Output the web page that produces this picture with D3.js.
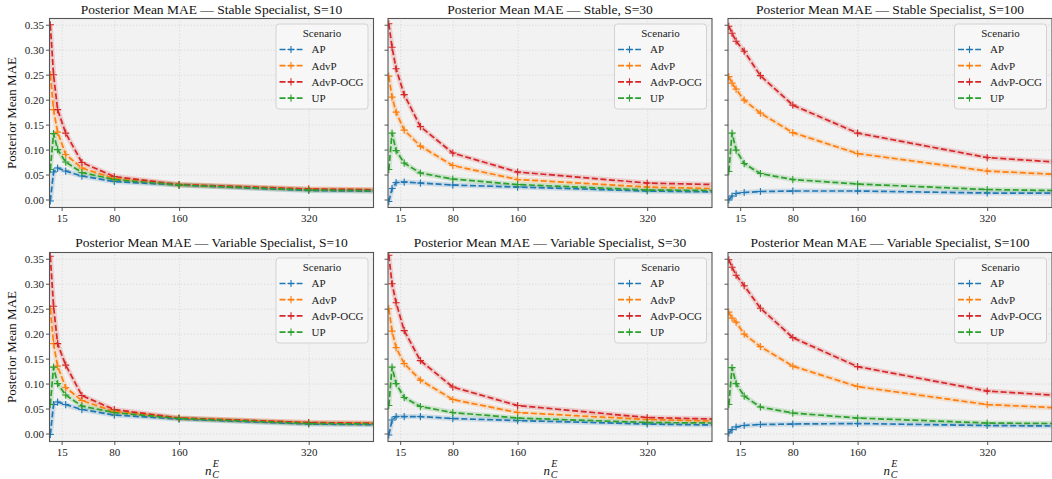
<!DOCTYPE html>
<html>
<head>
<meta charset="utf-8">
<script src="https://cdn.jsdelivr.net/npm/d3@7"></script>
<style>
  body { margin: 0; background: #fff; }
  svg { display: block; font-family: "Liberation Serif", "DejaVu Serif", serif; }
  .grid line { stroke: #d4d4d4; stroke-width: 0.8; stroke-dasharray: 1.2,2; }
  .grid path { display: none; }
  .ax path { display: none; }
  .ax line { stroke: #555; stroke-width: 1; }
  .ax text { fill: #222; font-size: 11px; font-family: "Liberation Serif", "DejaVu Serif", serif; }
</style>
</head>
<body>
<svg id="chart" width="1052" height="479"></svg>
<script>
// x values (n_C^E) for every series
var xValues = [1, 5, 10, 20, 40, 80, 160, 320, 640];
var scenarios = ["AP", "AdvP", "AdvP-OCG", "UP"];
var colors = ["#1f77b4", "#ff7f0e", "#d62728", "#2ca02c"];
var xTicks = [15, 80, 160, 320];
var yTicks = [0, 0.05, 0.10, 0.15, 0.20, 0.25, 0.30, 0.35];

var titles = [
  "Posterior Mean MAE \u2014 Stable Specialist, S=10",
  "Posterior Mean MAE \u2014 Stable, S=30",
  "Posterior Mean MAE \u2014 Stable Specialist, S=100",
  "Posterior Mean MAE \u2014 Variable Specialist, S=10",
  "Posterior Mean MAE \u2014 Variable Specialist, S=30",
  "Posterior Mean MAE \u2014 Variable Specialist, S=100"
];

// Stable Specialist, S=10
var stable10AP   = [-0.003, 0.055, 0.063, 0.057, 0.047, 0.036, 0.029, 0.018, 0.013];
var stable10AdvP = [0.250, 0.180, 0.135, 0.090, 0.063, 0.042, 0.030, 0.021, 0.016];
var stable10OCG  = [0.350, 0.250, 0.180, 0.133, 0.074, 0.046, 0.030, 0.021, 0.015];
var stable10UP   = [0.060, 0.132, 0.100, 0.075, 0.054, 0.040, 0.029, 0.019, 0.014];
// Stable, S=30
var stable30AP   = [-0.004, 0.022, 0.034, 0.035, 0.033, 0.029, 0.025, 0.017, 0.010];
var stable30AdvP = [0.247, 0.205, 0.175, 0.139, 0.107, 0.068, 0.040, 0.025, 0.013];
var stable30OCG  = [0.352, 0.305, 0.262, 0.210, 0.146, 0.093, 0.055, 0.033, 0.021];
var stable30UP   = [0.060, 0.133, 0.098, 0.073, 0.053, 0.041, 0.030, 0.019, 0.015];
// Stable Specialist, S=100
var stable100AP   = [-0.001, 0.007, 0.012, 0.014, 0.016, 0.017, 0.017, 0.013, 0.012];
var stable100AdvP = [0.246, 0.233, 0.221, 0.199, 0.173, 0.134, 0.092, 0.057, 0.032];
var stable100OCG  = [0.347, 0.333, 0.317, 0.297, 0.248, 0.189, 0.133, 0.084, 0.050];
var stable100UP   = [0.056, 0.133, 0.099, 0.072, 0.052, 0.040, 0.031, 0.020, 0.012];
// Variable Specialist, S=10
var variable10AP   = [-0.002, 0.058, 0.063, 0.058, 0.048, 0.037, 0.029, 0.019, 0.014];
var variable10AdvP = [0.250, 0.180, 0.135, 0.092, 0.066, 0.044, 0.031, 0.022, 0.017];
var variable10OCG  = [0.355, 0.255, 0.180, 0.137, 0.076, 0.048, 0.031, 0.022, 0.016];
var variable10UP   = [0.058, 0.133, 0.100, 0.077, 0.055, 0.042, 0.030, 0.020, 0.016];
// Variable Specialist, S=30
var variable30AP   = [-0.003, 0.027, 0.034, 0.034, 0.034, 0.030, 0.026, 0.019, 0.011];
var variable30AdvP = [0.250, 0.205, 0.172, 0.140, 0.107, 0.068, 0.042, 0.028, 0.016];
var variable30OCG  = [0.357, 0.300, 0.262, 0.206, 0.146, 0.093, 0.056, 0.032, 0.020];
var variable30UP   = [0.056, 0.133, 0.100, 0.072, 0.054, 0.042, 0.031, 0.022, 0.018];
// Variable Specialist, S=100
var variable100AP   = [0.001, 0.008, 0.013, 0.016, 0.018, 0.019, 0.020, 0.016, 0.012];
var variable100AdvP = [0.243, 0.231, 0.223, 0.199, 0.174, 0.135, 0.094, 0.058, 0.034];
var variable100OCG  = [0.348, 0.333, 0.317, 0.296, 0.251, 0.192, 0.134, 0.085, 0.053];
var variable100UP   = [0.058, 0.132, 0.100, 0.075, 0.053, 0.041, 0.031, 0.021, 0.017];

var panelSeries = [
  [stable10AP, stable10AdvP, stable10OCG, stable10UP],
  [stable30AP, stable30AdvP, stable30OCG, stable30UP],
  [stable100AP, stable100AdvP, stable100OCG, stable100UP],
  [variable10AP, variable10AdvP, variable10OCG, variable10UP],
  [variable30AP, variable30AdvP, variable30OCG, variable30UP],
  [variable100AP, variable100AdvP, variable100OCG, variable100UP]
];

var svg = d3.select("#chart");
var colLeft = [49.5, 388, 728];
var rowTop = [18.5, 252.5];
var axW = 324, axH = 189;

var x = d3.scaleLinear().domain([0, 400]).range([0, axW]);
var y = d3.scaleLinear().domain([-0.016, 0.3625]).range([axH, 0]);

var line = d3.line().x(function(d){return x(d[0]);}).y(function(d){return y(d[1]);});

function plus(sel, px, py, s){
  sel.append("line").attr("x1", px - s).attr("x2", px + s).attr("y1", py).attr("y2", py);
  sel.append("line").attr("x1", px).attr("x2", px).attr("y1", py - s).attr("y2", py + s);
}

for(var p=0;p<6;p++){
  var row = Math.floor(p/3), col = p%3;
  var g = svg.append("g").attr("transform","translate("+colLeft[col]+","+rowTop[row]+")");

  g.append("rect").attr("width",axW).attr("height",axH).attr("fill","#f2f2f2");

  g.append("clipPath").attr("id","clip"+p)
    .append("rect").attr("width",axW).attr("height",axH);

  // grid
  g.append("g").attr("class","grid").attr("transform","translate(0,"+axH+")")
    .call(d3.axisBottom(x).tickValues(xTicks).tickSize(-axH).tickFormat(""));
  g.append("g").attr("class","grid")
    .call(d3.axisLeft(y).tickValues(yTicks).tickSize(-axW).tickFormat(""));

  // series: faint band first, then dashed line with + markers
  var plot = g.append("g").attr("clip-path","url(#clip"+p+")");
  panelSeries[p].forEach(function(vals, i){
    var pts = xValues.map(function(xv, k){return [xv, vals[k]];});
    plot.append("path").attr("d", line(pts)).attr("fill","none")
      .attr("stroke", colors[i]).attr("stroke-opacity",0.18).attr("stroke-width",5)
      .attr("stroke-linejoin","round");
  });
  panelSeries[p].forEach(function(vals, i){
    var pts = xValues.map(function(xv, k){return [xv, vals[k]];});
    plot.append("path").attr("d", line(pts)).attr("fill","none")
      .attr("stroke", colors[i]).attr("stroke-width",1.7)
      .attr("stroke-dasharray","6,2.6");
    var mk = plot.append("g").attr("stroke", colors[i]).attr("stroke-width",1.1);
    pts.forEach(function(d){ plus(mk, x(d[0]), y(d[1]), 3.6); });
  });

  // spines
  g.append("rect").attr("width",axW).attr("height",axH).attr("fill","none")
    .attr("stroke","#555").attr("stroke-width",1.1);

  // axes
  g.append("g").attr("class","ax").attr("transform","translate(0,"+axH+")")
    .call(d3.axisBottom(x).tickValues(xTicks).tickSize(3.5).tickPadding(3));
  g.append("g").attr("class","ax")
    .call(d3.axisLeft(y).tickValues(yTicks).tickSize(3.5).tickPadding(2)
      .tickFormat(col==0 ? d3.format(".2f") : ""));

  // title
  g.append("text").attr("x",axW/2).attr("y",row==0 ? -4.5 : -5.5)
    .attr("text-anchor","middle").attr("font-size","13.5px").attr("fill","#111")
    .text(titles[p]);

  if(col==0){
    g.append("text").attr("transform","translate(-34,"+(axH/2)+") rotate(-90)")
      .attr("text-anchor","middle").attr("font-size","13px").attr("fill","#111")
      .text("Posterior Mean MAE");
  }
  if(row==1){
    var lab = g.append("g").attr("transform","translate("+(axW/2)+","+(axH+33)+")")
      .attr("fill","#111").attr("font-style","italic");
    lab.append("text").attr("x",-6.5).attr("y",0).attr("font-size","13px").text("n");
    lab.append("text").attr("x",1.3).attr("y",-8).attr("font-size","10px").text("E");
    lab.append("text").attr("x",0.8).attr("y",3.5).attr("font-size","10px").text("C");
  }

  // legend
  var lx = axW - 5.5 - 92, ly = 5.5;
  var lg = g.append("g").attr("transform","translate("+lx+","+ly+")");
  lg.append("rect").attr("width",92).attr("height",85).attr("rx",3)
    .attr("fill","#f7f7f7").attr("fill-opacity",0.9).attr("stroke","#d2d2d2");
  lg.append("text").attr("x",46).attr("y",13).attr("text-anchor","middle")
    .attr("font-size","11px").attr("fill","#222").text("Scenario");
  scenarios.forEach(function(s, i){
    var cy = 25.5 + i*16.2;
    lg.append("line").attr("x1",3.5).attr("x2",26.5).attr("y1",cy).attr("y2",cy)
      .attr("stroke",colors[i]).attr("stroke-width",1.7).attr("stroke-dasharray","6,2.6");
    var m = lg.append("g").attr("stroke",colors[i]).attr("stroke-width",1.1);
    plus(m, 15, cy, 3.6);
    lg.append("text").attr("x",35.5).attr("y",cy+3.8).attr("font-size","11px")
      .attr("fill","#222").text(s);
  });
}
</script>
</body>
</html>
